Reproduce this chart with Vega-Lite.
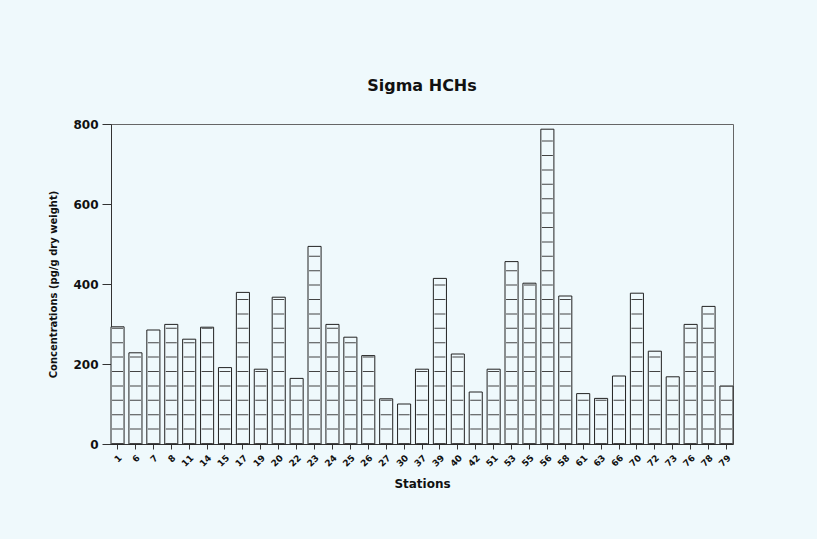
{
  "$schema": "https://vega.github.io/schema/vega-lite/v6.json",
  "autosize": {"type": "none"},
  "width": 622,
  "height": 320,
  "padding": {"left": 111, "top": 124, "right": 84, "bottom": 95},
  "background": "#eff9fc",
  "config": {
    "font": "DejaVu Sans",
    "view": {"stroke": "#666", "strokeWidth": 1},
    "axis": {"labelFont": "DejaVu Sans", "titleFont": "DejaVu Sans", "labelFontWeight": "bold", "titleFontWeight": "bold", "labelColor": "#111", "titleColor": "#111", "domainColor": "#333", "tickColor": "#333", "grid": false}
  },
  "title": {"text": "Sigma HCHs", "fontSize": 16, "fontWeight": "bold", "font": "DejaVu Sans", "color": "#111", "offset": 24, "anchor": "middle"},
  "data": {"values": [
    {"station": "1", "value": 293},
    {"station": "6", "value": 228},
    {"station": "7", "value": 285},
    {"station": "8", "value": 299},
    {"station": "11", "value": 262},
    {"station": "14", "value": 292},
    {"station": "15", "value": 191},
    {"station": "17", "value": 379},
    {"station": "19", "value": 187},
    {"station": "20", "value": 367},
    {"station": "22", "value": 164},
    {"station": "23", "value": 494},
    {"station": "24", "value": 299},
    {"station": "25", "value": 267},
    {"station": "26", "value": 221},
    {"station": "27", "value": 113},
    {"station": "30", "value": 100},
    {"station": "37", "value": 187},
    {"station": "39", "value": 414},
    {"station": "40", "value": 225},
    {"station": "42", "value": 130},
    {"station": "51", "value": 187},
    {"station": "53", "value": 456},
    {"station": "55", "value": 402},
    {"station": "56", "value": 787},
    {"station": "58", "value": 370},
    {"station": "61", "value": 126},
    {"station": "63", "value": 114},
    {"station": "66", "value": 170},
    {"station": "70", "value": 377},
    {"station": "72", "value": 232},
    {"station": "73", "value": 168},
    {"station": "76", "value": 299},
    {"station": "78", "value": 344},
    {"station": "79", "value": 145}
  ]},
  "encoding": {
    "x": {"field": "station", "type": "ordinal", "sort": null,
      "scale": {"paddingInner": 0.27, "paddingOuter": 0},
      "axis": {"title": "Stations", "titleFontSize": 12, "titlePadding": 10, "labelAngle": -45, "labelFontSize": 9, "labelPadding": 4, "tickSize": 5}},
    "y": {"field": "value", "type": "quantitative",
      "scale": {"domain": [0, 800], "nice": false},
      "axis": {"title": "Concentrations (pg/g dry weight)", "titleFontSize": 10, "titlePadding": 14, "values": [0, 200, 400, 600, 800], "labelFontSize": 12, "tickSize": 9, "labelPadding": 4}}
  },
  "layer": [
    {"mark": {"type": "bar", "fill": "#eff9fc", "stroke": "#222", "strokeWidth": 1}},
    {"mark": {"type": "rule", "color": "#444", "strokeWidth": 11, "strokeDash": [1, 13.4]},
     "encoding": {"y": {"datum": 0}, "y2": {"field": "value"}}}
  ]
}
